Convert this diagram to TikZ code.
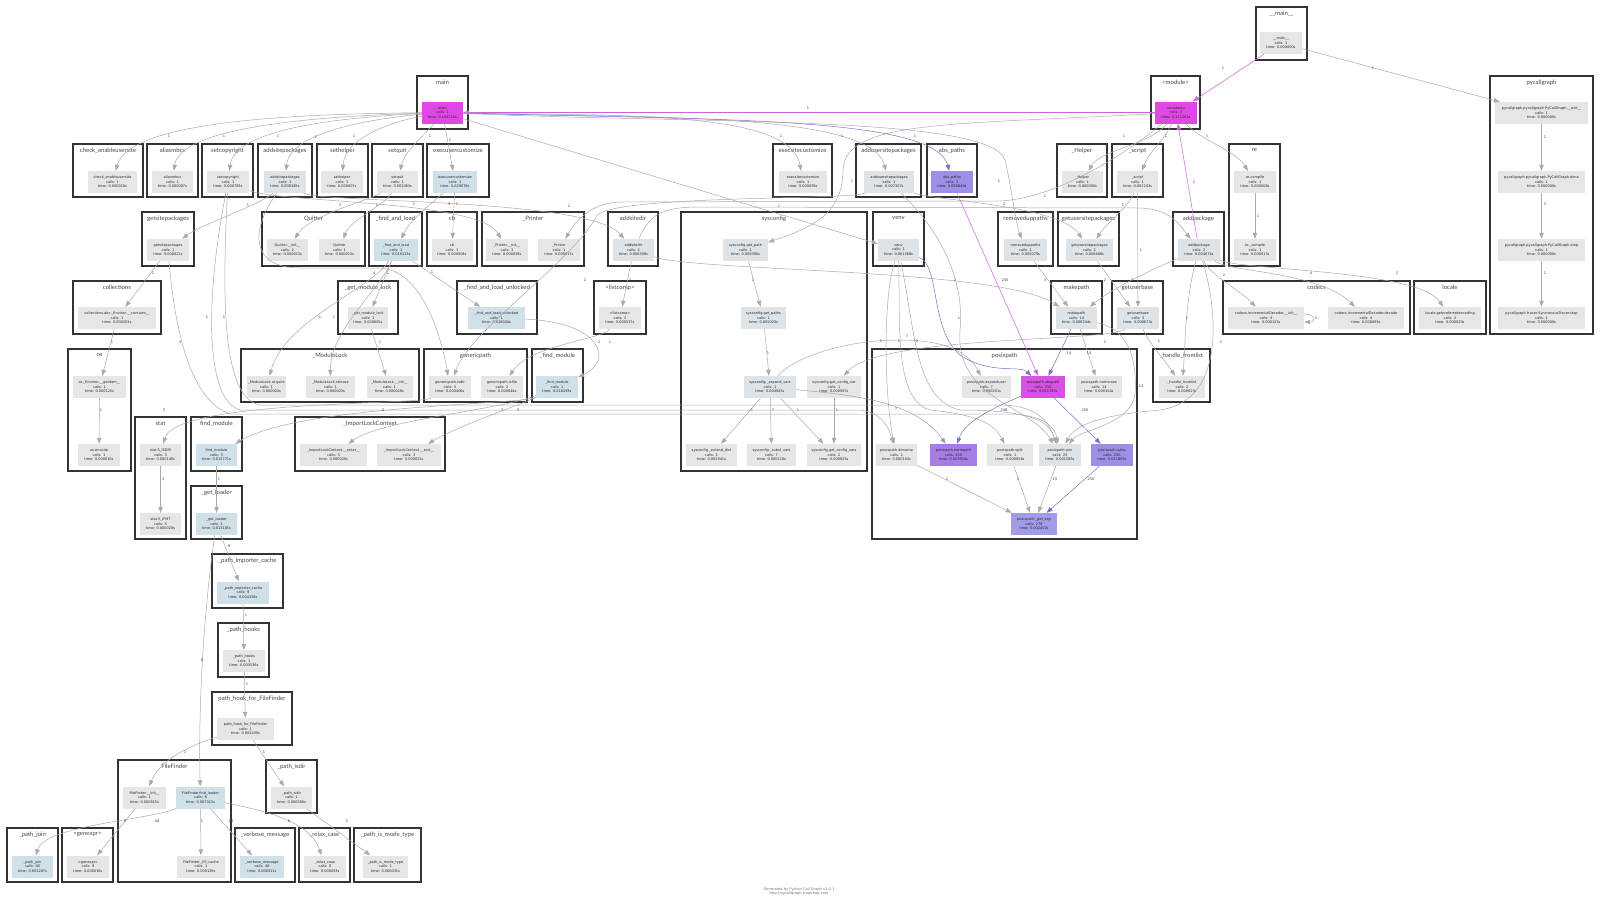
\documentclass[tikz,border=0pt]{standalone}
\usepackage{fontspec}
\setmainfont{Lato}
\newfontfamily\nf{DejaVu Sans}
\usetikzlibrary{arrows.meta}
\definecolor{g0}{HTML}{E6E6E6}
\definecolor{g1}{HTML}{DDE3E6}
\definecolor{g2}{HTML}{D0E0E8}
\definecolor{mag}{HTML}{E048E6}
\definecolor{mag2}{HTML}{D652E2}
\definecolor{pur1}{HTML}{9B8FE8}
\definecolor{pur2}{HTML}{A67CE6}
\definecolor{pur3}{HTML}{9E8EE6}
\definecolor{pur4}{HTML}{A29BE8}
\definecolor{eg}{HTML}{AAAAAA}
\definecolor{emag}{HTML}{D060E0}
\definecolor{epur}{HTML}{7C6CC8}
\definecolor{eblue}{HTML}{90A4B4}
\definecolor{clc}{HTML}{333333}
\newcommand\nodefont{\nf\fontsize{3.5}{4.5}\selectfont}
\newcommand\labfont{\nf\fontsize{3.6}{4}\selectfont}
\tikzset{
 fnode/.style={rectangle,inner sep=0pt,minimum height=22pt,align=center,font=\nodefont,text=black!85},
 clbox/.style={draw=clc,line width=1.1pt},
 cltitle/.style={anchor=north,inner sep=0pt,font=\fontsize{6}{7}\selectfont,text=black!72},
 e/.style={draw=eg,line width=0.5pt,-{Triangle[length=6pt,width=4.4pt]}},
 em/.style={e,draw=emag},
 ep/.style={e,draw=epur},
 eb/.style={e,draw=eblue},
 el/.style={font=\labfont,text=black!75,inner sep=0pt}
}
\newcommand\fn[8]{\node[fnode,fill=#2,minimum width=#5pt] (#1) at (#3,#4) {#6\\calls: #7\\time: #8s};}
\newcommand\cl[6]{\draw[clbox] (#2,#3) rectangle (#4,#5); \node[cltitle] (#1) at ({(#2+#4)/2},{#3+4}) {#6};}
\begin{document}
\begin{tikzpicture}[x=1pt,y=-1pt]
\useasboundingbox (0,0) rectangle (1600,903);
\fill[white] (0,0) rectangle (1600,903);
% clusters
\cl{c1}{1256}{7}{1307}{60}{\_\_main\_\_}
\cl{c2}{1490}{76}{1593}{334}{pycallgraph}
\cl{c3}{1151}{76}{1200}{129}{<module>}
\cl{c4}{417}{76}{468}{129}{main}
\cl{c5}{73}{144}{143}{197}{check\_enableusersite}
\cl{c6}{147}{144}{198}{197}{aliasmbcs}
\cl{c7}{202}{144}{253}{197}{setcopyright}
\cl{c8}{258}{144}{312}{197}{addsitepackages}
\cl{c9}{317}{144}{368}{197}{sethelper}
\cl{c10}{372}{144}{423}{197}{setquit}
\cl{c11}{427}{144}{489}{197}{execusercustomize}
\cl{c12}{773}{144}{832}{197}{execsitecustomize}
\cl{c13}{856}{144}{921}{197}{addusersitepackages}
\cl{c14}{927}{144}{977}{197}{abs\_paths}
\cl{c15}{1057}{144}{1107}{197}{\_Helper}
\cl{c16}{1112}{144}{1163}{197}{\_script}
\cl{c17}{1229}{144}{1280}{266}{re}
\cl{c18}{142}{212}{194}{266}{getsitepackages}
\cl{c19}{262}{212}{365}{266}{Quitter}
\cl{c20}{369}{212}{422}{266}{\_find\_and\_load}
\cl{c21}{427}{212}{477}{266}{cb}
\cl{c22}{482}{212}{584}{266}{\_Printer}
\cl{c23}{608}{212}{658}{266}{addsitedir}
\cl{c24}{681}{212}{867}{471}{sysconfig}
\cl{c25}{873}{212}{924}{266}{venv}
\cl{c26}{998}{212}{1053}{266}{removeduppaths}
\cl{c27}{1058}{212}{1119}{266}{getusersitepackages}
\cl{c28}{1173}{212}{1224}{266}{addpackage}
\cl{c29}{73}{281}{161}{334}{collections}
\cl{c30}{338}{281}{398}{334}{\_get\_module\_lock}
\cl{c31}{457}{281}{537}{334}{\_find\_and\_load\_unlocked}
\cl{c32}{594}{281}{646}{334}{<listcomp>}
\cl{c33}{1051}{281}{1102}{334}{makepath}
\cl{c34}{1112}{281}{1163}{334}{getuserbase}
\cl{c35}{1223}{281}{1410}{334}{codecs}
\cl{c36}{1414}{281}{1486}{334}{locale}
\cl{c37}{68}{349}{131}{471}{os}
\cl{c38}{241}{349}{419}{402}{\_ModuleLock}
\cl{c39}{424}{349}{527}{402}{genericpath}
\cl{c40}{532}{349}{583}{402}{\_find\_module}
\cl{c41}{872}{349}{1137}{539}{posixpath}
\cl{c42}{1153}{349}{1210}{402}{\_handle\_fromlist}
\cl{c43}{135}{417}{186}{539}{stat}
\cl{c44}{191}{417}{242}{471}{find\_module}
\cl{c45}{295}{417}{445}{471}{\_ImportLockContext}
\cl{c46}{191}{486}{242}{539}{\_get\_loader}
\cl{c47}{212}{554}{283}{608}{\_path\_importer\_cache}
\cl{c48}{218}{623}{269}{677}{\_path\_hooks}
\cl{c49}{212}{692}{292}{745}{path\_hook\_for\_FileFinder}
\cl{c50}{118}{760}{231}{882}{FileFinder}
\cl{c51}{266}{760}{317}{813}{\_path\_isdir}
\cl{c52}{7}{828}{58}{882}{\_path\_join}
\cl{c53}{62}{828}{113}{882}{<genexpr>}
\cl{c54}{235}{828}{295}{882}{\_verbose\_message}
\cl{c55}{299}{828}{350}{882}{\_relax\_case}
\cl{c56}{354}{828}{421}{882}{\_path\_is\_mode\_type}
% nodes
\fn{mm}{g0}{1281}{43}{42}{\_\_main\_\_}{1}{0.000000}
\fn{pyexit}{g0}{1541.5}{113}{93}{pycallgraph.pycallgraph.PyCallGraph.\_\_exit\_\_}{1}{0.000000}
\fn{pydone}{g0}{1541.5}{182}{87}{pycallgraph.pycallgraph.PyCallGraph.done}{1}{0.000000}
\fn{pystop}{g0}{1541.5}{250}{87}{pycallgraph.pycallgraph.PyCallGraph.stop}{1}{0.000000}
\fn{pytrac}{g0}{1541.5}{318}{87}{pycallgraph.tracer.SyncronousTracer.stop}{1}{0.000000}
\fn{module}{mag}{1176}{112.5}{42}{<module>}{3}{0.111262}
\fn{main}{mag}{442.5}{112.5}{41}{main}{1}{0.108115}
\fn{chk}{g0}{112.5}{182}{49}{check\_enableusersite}{1}{0.000010}
\fn{alias}{g0}{172.5}{182}{41}{aliasmbcs}{1}{0.000007}
\fn{setc}{g0}{228}{182}{42}{setcopyright}{1}{0.000783}
\fn{addsp}{g1}{285}{182}{42}{addsitepackages}{1}{0.008185}
\fn{seth}{g0}{342}{182}{42}{sethelper}{1}{0.000007}
\fn{setq}{g0}{397.5}{182}{41}{setquit}{1}{0.001063}
\fn{execu}{g2}{455}{182}{44}{execusercustomize}{1}{0.029078}
\fn{execs}{g0}{803}{182}{48}{execsitecustomize}{1}{0.000039}
\fn{addusp}{g1}{889}{182}{50}{addusersitepackages}{1}{0.007307}
\fn{absp}{pur1}{952}{182}{42}{abs\_paths}{1}{0.058840}
\fn{helper}{g0}{1082.5}{182}{41}{\_Helper}{1}{0.000000}
\fn{script}{g0}{1137.5}{182}{41}{\_script}{1}{0.001243}
\fn{recomp}{g0}{1255}{182}{42}{re.compile}{1}{0.000006}
\fn{getsp}{g0}{168}{250}{42}{getsitepackages}{1}{0.000021}
\fn{qinit}{g0}{287.5}{250}{41}{Quitter.\_\_init\_\_}{2}{0.000013}
\fn{quit}{g0}{339.5}{250}{41}{Quitter}{1}{0.000013}
\fn{fal}{g2}{396}{250}{44}{\_find\_and\_load}{1}{0.019113}
\fn{cb}{g0}{452}{250}{41}{cb}{1}{0.000008}
\fn{pinit}{g0}{507}{250}{42}{\_Printer.\_\_init\_\_}{3}{0.000039}
\fn{printer}{g0}{559}{250}{42}{\_Printer}{1}{0.000017}
\fn{addsd}{g1}{633.5}{250}{41}{addsitedir}{2}{0.006359}
\fn{sgp}{g1}{745.5}{250}{45}{sysconfig.get\_path}{1}{0.005090}
\fn{venv}{g1}{898.5}{250}{41}{venv}{1}{0.001368}
\fn{rdp}{g1}{1025.5}{250}{43}{removeduppaths}{1}{0.005079}
\fn{gusp}{g1}{1089.5}{250}{47}{getusersitepackages}{2}{0.006486}
\fn{addpkg}{g1}{1199}{250}{42}{addpackage}{2}{0.004074}
\fn{rcomp}{g0}{1255}{250}{42}{re.\_compile}{1}{0.000013}
\fn{coll}{g0}{117}{318}{78}{collections.abc.\_Environ.\_\_contains\_\_}{1}{0.000201}
\fn{gml}{g0}{368}{318}{40}{\_get\_module\_lock}{1}{0.000605}
\fn{falu}{g2}{496.5}{318}{57}{\_find\_and\_load\_unlocked}{1}{0.018034}
\fn{lc}{g0}{620}{318}{42}{<listcomp>}{3}{0.000537}
\fn{sgps}{g1}{763.5}{318}{45}{sysconfig.get\_paths}{1}{0.005023}
\fn{mkp}{g1}{1076.5}{318}{41}{makepath}{14}{0.006244}
\fn{gub}{g1}{1138}{318}{42}{getuserbase}{3}{0.008673}
\fn{cinit}{g0}{1266}{318}{76}{codecs.IncrementalDecoder.\_\_init\_\_}{4}{0.000121}
\fn{cdec}{g0}{1366}{318}{76}{codecs.IncrementalDecoder.decode}{4}{0.000065}
\fn{loc}{g0}{1450}{318}{62}{locale.getpreferredencoding}{2}{0.000020}
\fn{osgi}{g0}{99.5}{387}{53}{os.\_Environ.\_\_getitem\_\_}{1}{0.000125}
\fn{mla}{g0}{266.5}{387}{39}{\_ModuleLock.acquire}{1}{0.000024}
\fn{mlr}{g0}{330.5}{387}{49}{\_ModuleLock.release}{1}{0.000023}
\fn{mli}{g0}{389.5}{387}{46}{\_ModuleLock.\_\_init\_\_}{1}{0.000018}
\fn{gpd}{g0}{450}{387}{42}{genericpath.isdir}{5}{0.000406}
\fn{gpf}{g0}{502}{387}{42}{genericpath.isfile}{2}{0.000044}
\fn{fmod}{g2}{557}{387}{42}{\_find\_module}{1}{0.016293}
\fn{sev}{g1}{770}{387}{52}{sysconfig.\_expand\_vars}{1}{0.004943}
\fn{sgcv}{g0}{834}{387}{54}{sysconfig.get\_config\_var}{1}{0.000087}
\fn{pexp}{g0}{986.5}{387}{49}{posixpath.expanduser}{7}{0.000201}
\fn{pabs}{mag2}{1043}{387}{44}{posixpath.abspath}{250}{0.051782}
\fn{pnc}{g0}{1099}{387}{46}{posixpath.normcase}{14}{0.000154}
\fn{hfl}{g0}{1182}{387}{46}{\_handle\_fromlist}{2}{0.000023}
\fn{osenc}{g0}{99}{455}{42}{os.encode}{1}{0.000010}
\fn{sisdir}{g0}{160.5}{455}{41}{stat.S\_ISDIR}{3}{0.000149}
\fn{fm}{g2}{216.5}{455}{41}{find\_module}{3}{0.015771}
\fn{ilce}{g0}{333.5}{455}{67}{\_ImportLockContext.\_\_enter\_\_}{3}{0.000020}
\fn{ilcx}{g0}{409}{455}{64}{\_ImportLockContext.\_\_exit\_\_}{3}{0.000021}
\fn{sed}{g0}{711.5}{455}{51}{sysconfig.\_extend\_dict}{1}{0.002941}
\fn{ssv}{g0}{771.5}{455}{49}{sysconfig.\_subst\_vars}{7}{0.000118}
\fn{sgcvs}{g0}{834}{455}{54}{sysconfig.get\_config\_vars}{2}{0.000025}
\fn{pdir}{g0}{896.5}{455}{41}{posixpath.dirname}{2}{0.000102}
\fn{pnp}{pur2}{953.5}{455}{47}{posixpath.normpath}{250}{0.023910}
\fn{psplit}{g0}{1010}{455}{46}{posixpath.split}{1}{0.000058}
\fn{pjoin}{g1}{1060}{455}{42}{posixpath.join}{25}{0.001585}
\fn{pisabs}{pur3}{1112}{455}{42}{posixpath.isabs}{250}{0.011805}
\fn{sifmt}{g0}{160.5}{524}{41}{stat.S\_IFMT}{3}{0.000020}
\fn{gl}{g2}{216.5}{524}{41}{\_get\_loader}{1}{0.013185}
\fn{psep}{pur4}{1034}{524}{46}{posixpath.\_get\_sep}{278}{0.002402}
\fn{pic}{g2}{243}{592.5}{52}{\_path\_importer\_cache}{9}{0.004158}
\fn{ph}{g0}{244}{661}{42}{\_path\_hooks}{1}{0.003536}
\fn{phff}{g0}{245.5}{729}{57}{path\_hook\_for\_FileFinder}{1}{0.002430}
\fn{ffi}{g0}{144.5}{797.5}{43}{FileFinder.\_\_init\_\_}{1}{0.000815}
\fn{ffl}{g2}{200.5}{797.5}{49}{FileFinder.find\_loader}{8}{0.007313}
\fn{pisd}{g0}{291.5}{797.5}{41}{\_path\_isdir}{1}{0.000580}
\fn{pj}{g2}{32.5}{866.5}{41}{\_path\_join}{48}{0.001287}
\fn{ge}{g0}{88}{866.5}{42}{<genexpr>}{9}{0.000016}
\fn{ffc}{g0}{201}{866.5}{48}{FileFinder.\_fill\_cache}{1}{0.000129}
\fn{vm}{g2}{262}{866.5}{44}{\_verbose\_message}{48}{0.000311}
\fn{rc}{g0}{325}{866.5}{42}{\_relax\_case}{8}{0.000053}
\fn{pimt}{g0}{385.5}{866.5}{45}{\_path\_is\_mode\_type}{1}{0.000031}
% edges: top
\draw[em] (mm) -- (module) node[el] at (1223,68) {1};
\draw[e] (mm) -- (pyexit) node[el] at (1373,68) {1};
\draw[e] (pyexit) -- (pydone) node[el] at (1545,137) {1};
\draw[e] (pydone) -- (pystop) node[el] at (1545,204) {1};
\draw[e] (pystop) -- (pytrac) node[el] at (1545,273) {1};
\draw[em] (module) -- (main) node[el] at (808,108) {1};
\draw[e] (module) .. controls (1150,145) and (1100,150) .. (helper) node[el] at (1124,136) {1};
\draw[e] (module) .. controls (1165,140) and (1150,150) .. (script) node[el] at (1166,136) {1};
\draw[e] (module) .. controls (1200,140) and (1235,150) .. (recomp) node[el] at (1207,136) {1};
\draw[em] (addpkg) -- (module) node[el] at (1194,182) {2};
\draw[e] (recomp) -- (rcomp) node[el] at (1258,216) {1};
\draw[e] (module) .. controls (950,125) and (845,120) .. (843,170) .. controls (843,215) and (810,228) .. (sgp) node[el] at (852,181) {1};
\draw[e] (module) .. controls (1130,150) and (1060,198) .. (1000,201) -- (620,202) .. controls (590,203) and (575,222) .. (printer);
% main
\draw[e] (main) .. controls (300,114) and (130,120) .. (chk) node[el] at (169,136) {1};
\draw[e] (main) .. controls (330,116) and (180,125) .. (alias) node[el] at (224,136) {1};
\draw[e] (main) .. controls (350,117) and (235,127) .. (setc) node[el] at (278,136) {1};
\draw[e] (main) .. controls (380,118) and (290,130) .. (addsp) node[el] at (316,137) {1};
\draw[e] (main) .. controls (400,120) and (345,135) .. (seth) node[el] at (354,136) {1};
\draw[e] (main) .. controls (425,135) and (405,150) .. (setq) node[el] at (430,136) {1};
\draw[e] (main) -- (execu) node[el] at (450,140) {1};
\draw[e] (main) .. controls (620,116) and (790,110) .. (execs) node[el] at (781,136) {1};
\draw[e] (main) .. controls (650,118) and (870,112) .. (addusp) node[el] at (842,136) {1};
\draw[ep] (main) .. controls (700,120) and (935,115) .. (absp) node[el] at (915,136) {1};
\draw[e] (main) .. controls (700,124) and (990,115) .. (1005,160) .. controls (1012,190) and (1015,220) .. (rdp) node[el] at (999,181) {1};
\draw[e] (main) -- (venv) node[el] at (779,206) {1};
% row1
\draw[e] (addsp) .. controls (260,205) and (200,225) .. (getsp) node[el] at (248,205) {1};
\draw[e] (addsp) .. controls (320,203) and (590,198) .. (addsd) node[el] at (569,206) {2};
\draw[e] (setc) .. controls (280,203) and (480,200) .. (pinit) node[el] at (449,204) {3};
\draw[e] (setq) .. controls (370,200) and (310,215) .. (qinit) node[el] at (340,205) {2};
\draw[e] (setq) .. controls (385,205) and (350,220) .. (quit) node[el] at (377,205) {1};
\draw[e] (execu) .. controls (430,205) and (410,220) .. (fal) node[el] at (414,204) {1};
\draw[e] (execu) -- (cb) node[el] at (457,204) {1};
\draw[e] (addsd) -- (lc) node[el] at (630,280) {2};
\draw[e] (addsd) .. controls (700,272) and (1000,268) .. (mkp) node[el] at (955,280) {2};
\draw[e] (addsd) .. controls (650,215) and (660,207) .. (700,207) -- (1140,208) .. controls (1170,209) and (1180,225) .. (addpkg) node[el] at (1004,204) {2};
\draw[e] (rdp) -- (mkp) node[el] at (1045,280) {3};
\draw[e] (gusp) -- (gub) node[el] at (1105,280) {2};
\draw[e] (addpkg) .. controls (1150,270) and (1110,290) .. (mkp) node[el] at (1132,280) {3};
\draw[e] (addusp) .. controls (930,200) and (1060,205) .. (gusp) node[el] at (1045,196) {1};
\draw[e] (script) .. controls (1130,205) and (1105,225) .. (gusp) node[el] at (1123,205) {1};
\draw[e] (script) -- (gub) node[el] at (1141,250) {1};
\draw[e] (addpkg) .. controls (1210,275) and (1240,290) .. (cinit) node[el] at (1224,275) {2};
\draw[e] (addpkg) .. controls (1230,272) and (1320,272) .. (cdec) node[el] at (1311,273) {4};
\draw[e] (addpkg) .. controls (1240,270) and (1420,270) .. (loc) node[el] at (1397,273) {2};
\draw[e] (addpkg) .. controls (1185,300) and (1185,350) .. (hfl) node[el] at (1187,318) {1};
\draw[e] (addpkg) .. controls (1215,300) and (1230,400) .. (1160,410) .. controls (1100,415) and (1075,425) .. (pjoin) node[el] at (1221,342) {2};
\draw[e] (gub) .. controls (1150,345) and (1165,360) .. (hfl) node[el] at (1159,341) {1};
\draw[e] (gub) .. controls (1110,342) and (880,335) .. (sgcv) node[el] at (1105,342) {1};
\draw[e] ([yshift=4pt]cinit.east) .. controls +(12,0) and +(12,0) .. ([yshift=-4pt]cinit.east) node[el] at (1316,318) {2};
% sysconfig
\draw[e] (sgp) -- (sgps) node[el] at (753,280) {1};
\draw[e] (sgps) -- (sev) node[el] at (768,353) {1};
\draw[e] (sev) -- (sed) node[el] at (752,410) {1};
\draw[e] (sev) -- (ssv) node[el] at (773,410) {7};
\draw[e] (sev) -- (sgcvs) node[el] at (798,410) {1};
\draw[e] (sgcv) -- (sgcvs) node[el] at (837,410) {1};
\draw[eb] (sev) .. controls (850,395) and (915,400) .. (pnp) node[el] at (896,409) {7};
\draw[e] (sev) .. controls (790,360) and (840,340) .. (900,340) .. controls (950,340) and (970,355) .. (pexp) node[el] at (907,336) {7};
% venv & posixpath
\draw[e] (venv) .. controls (882,300) and (885,400) .. (pdir) node[el] at (881,341) {1};
\draw[e] (venv) .. controls (900,330) and (895,400) .. (930,410) .. controls (980,415) and (995,425) .. (psplit) node[el] at (899,341) {1};
\draw[e] (venv) .. controls (915,330) and (915,400) .. (960,410) .. controls (1040,410) and (1050,425) .. (pjoin) node[el] at (917,341) {2};
\draw[ep] (venv) .. controls (940,265) and (930,330) .. (960,355) .. controls (990,375) and (1020,365) .. (pabs);
\draw[e] (addusp) .. controls (940,230) and (965,280) .. (960,330) .. controls (955,400) and (1030,405) .. (pjoin) node[el] at (959,318) {1};
\draw[e] (setc) .. controls (205,300) and (205,400) .. (240,410) -- (860,410) .. controls (880,412) and (888,425) .. (pdir) node[el] at (207,317) {1};
\draw[e] (setc) .. controls (222,300) and (222,398) .. (260,405) -- (1000,405) .. controls (1040,405) and (1050,425) .. (pjoin) node[el] at (224,317) {1};
\draw[e] (getsp) .. controls (175,330) and (190,400) .. (230,414) -- (1010,414) .. controls (1045,415) and (1055,428) .. (pjoin) node[el] at (180,342) {4};
\draw[em] (absp) -- (pabs) node[el] at (1005,280) {235};
\draw[ep] (mkp) -- (pabs) node[el] at (1069,353) {14};
\draw[e] (mkp) -- (pnc) node[el] at (1089,353) {14};
\draw[e] (mkp) .. controls (1130,330) and (1137,360) .. (1135,395) .. controls (1130,425) and (1080,430) .. (pjoin) node[el] at (1141,386) {14};
\draw[ep] (pabs) .. controls (1000,405) and (965,420) .. (pnp) node[el] at (1004,410) {248};
\draw[ep] (pabs) -- (pisabs) node[el] at (1085,410) {250};
\draw[e] (pdir) -- (psep) node[el] at (947,479) {2};
\draw[e] (psplit) -- (psep) node[el] at (1018,479) {1};
\draw[e] (pjoin) -- (psep) node[el] at (1055,479) {25};
\draw[ep] (pisabs) -- (psep) node[el] at (1091,479) {250};
% left
\draw[e] (getsp) -- (coll) node[el] at (153,273) {1};
\draw[e] (coll) -- (osgi) node[el] at (112,342) {1};
\draw[e] (osgi) -- (osenc) node[el] at (101,410) {1};
\draw[e] (addsp) .. controls (250,230) and (250,268) .. (300,268) -- (380,268) .. controls (420,270) and (440,330) .. (gpd) node[el] at (374,273) {4};
\draw[e] (addusp) .. controls (850,200) and (620,195) .. (597,215) .. controls (575,260) and (470,330) .. (gpd) node[el] at (585,280) {2};
\draw[e] (fal) -- (gml) node[el] at (388,273) {1};
\draw[e] (fal) -- (falu) node[el] at (432,272) {1};
\draw[e] (fal) .. controls (370,290) and (285,320) .. (mla) node[el] at (320,317) {1};
\draw[e] (fal) .. controls (380,290) and (330,330) .. (mlr) node[el] at (334,317) {1};
\draw[e] (gml) -- (mli) node[el] at (380,342) {1};
\draw[e] (falu) .. controls (600,322) and (615,360) .. (fmod) node[el] at (610,342) {1};
\draw[e] (lc) .. controls (600,340) and (530,345) .. (gpf) node[el] at (599,342) {2};
\draw[e] (fmod) .. controls (520,405) and (300,405) .. (fm) node[el] at (383,410) {3};
\draw[e] (fmod) .. controls (500,410) and (380,420) .. (ilce) node[el] at (502,410) {3};
\draw[e] (fmod) .. controls (520,405) and (460,425) .. (ilcx) node[el] at (518,410) {3};
\draw[e] (gpd) .. controls (420,405) and (175,400) .. (sisdir) node[el] at (164,410) {3};
\draw[e] (sisdir) -- (sifmt) node[el] at (163,479) {3};
\draw[e] (fm) -- (gl) node[el] at (219,479) {1};
\draw[e] (gl) -- (pic) node[el] at (229,546) {9};
\draw[e] (gl) .. controls (205,600) and (198,700) .. (ffl) node[el] at (202,660) {8};
\draw[e] (pic) -- (ph) node[el] at (246,615) {1};
\draw[e] (ph) -- (phff) node[el] at (247,684) {1};
\draw[e] (phff) .. controls (190,745) and (160,760) .. (ffi) node[el] at (185,752) {1};
\draw[e] (phff) -- (pisd) node[el] at (264,752) {1};
\draw[e] (ffi) -- (ge) node[el] at (125,821) {9};
\draw[e] (ffl) .. controls (150,820) and (45,825) .. (pj) node[el] at (157,821) {48};
\draw[e] (ffl) -- (ffc) node[el] at (202,821) {1};
\draw[e] (ffl) -- (vm) node[el] at (231,821) {48};
\draw[e] (ffl) .. controls (260,810) and (310,820) .. (rc) node[el] at (289,821) {8};
\draw[e] (pisd) -- (pimt) node[el] at (347,821) {1};
% footer
\node[font=\labfont,text=black!55,align=center] (footer) at (799,891) {Generated by Python Call Graph v1.0.1\\http://pycallgraph.slowchop.com};
\end{tikzpicture}
\end{document}
